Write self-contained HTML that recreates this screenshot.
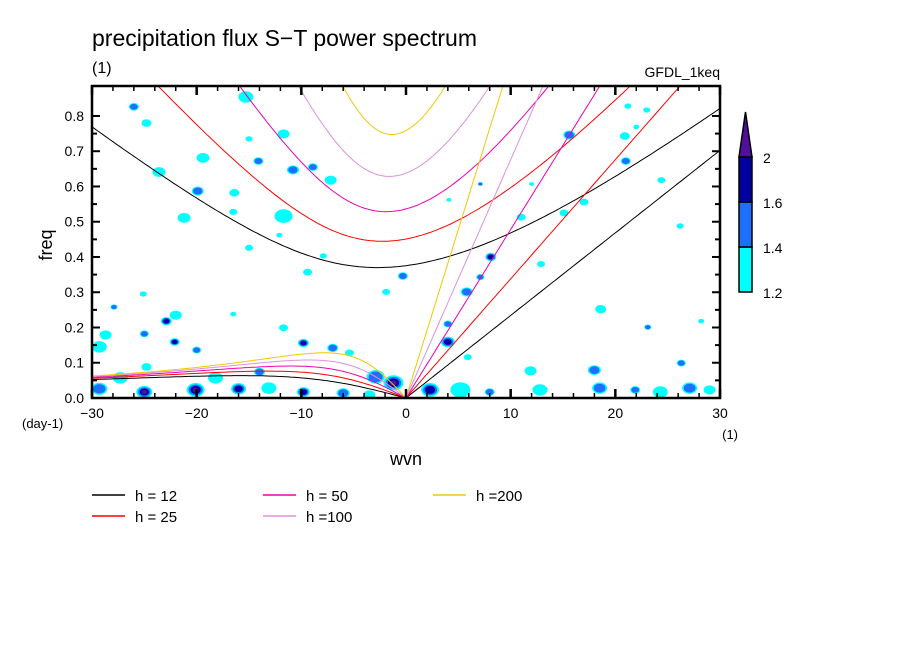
<!DOCTYPE html>
<html><head><meta charset="utf-8">
<style>
html,body{margin:0;padding:0;background:#fff;}
svg{display:block;font-family:"Liberation Sans",sans-serif;}
</style></head>
<body>
<svg id="chart" width="904" height="654" viewBox="0 0 904 654">
<defs><clipPath id="plotclip"><rect x="92" y="86" width="628" height="312"/></clipPath></defs>
<text x="92" y="46" font-size="23">precipitation flux S−T power spectrum</text>
<text x="92" y="73" font-size="16">(1)</text>
<text x="720" y="77" font-size="14" text-anchor="end">GFDL_1keq</text>
<g id="blobs" clip-path="url(#plotclip)"></g>
<g id="curves" clip-path="url(#plotclip)"></g>
<g id="axes"></g>
<text x="52" y="245" font-size="18" text-anchor="middle" transform="rotate(-90 52 245)">freq</text>
<text x="22" y="428" font-size="13">(day-1)</text>
<text x="406" y="465" font-size="18" text-anchor="middle">wvn</text>
<text x="738" y="439" font-size="13" text-anchor="end">(1)</text>
<g id="legend"></g>
<g id="colorbar"></g>
</svg>
<script>
const depths = [12, 25, 50, 100, 200];
const depthColors = ['#000000','#ff0000','#ee00b4','#dd90dd','#f0c800'];
const xTicks = [-30,-20,-10,0,10,20,30];
const yTicks = [0,0.1,0.2,0.3,0.4,0.5,0.6,0.7,0.8];
const cbLevels = [1.2,1.4,1.6,2];
const cbColors = ['#00ffff','#1e6eff','#0000a0','#50109c'];
// blobs: wavenumber, frequency, level (1-4), relative size
const blobWvn  = [-26.0,-24.8,-15.3,-19.4,-23.6,-19.9,-14.1,-10.8,-8.9,-11.7,-11.7,-21.2,-16.4,-7.2,-15.0,-16.5,-12.1,-15.0,-7.9,-9.4,-1.9,-0.3,-25.1,
 15.6,20.9,21.2,23.0,22.0,21.0,24.4,12.0,7.1,4.1,15.1,11.0,17.0,26.2,12.9,8.1,7.1,5.8,18.6,4.0,4.0,5.9,11.9,18.0,23.1,28.2,26.3,
 2.3,5.2,8.0,12.8,18.5,21.9,24.3,27.1,29.0,
 -27.9,-22.9,-22.0,-25.0,-22.1,-20.0,-28.7,-29.3,-9.8,-7.0,-11.7,-5.4,-16.5,-24.8,-14.0,-29.3,-25.0,-20.1,-16.0,-9.8,-13.1,-6.0,-3.5,-1.2,-2.9,-27.3,-18.2];
const blobFreq = [.826,.780,.854,.681,.641,.587,.672,.647,.655,.749,.516,.511,.582,.618,.735,.528,.462,.426,.403,.357,.301,.346,.295,
 .746,.743,.828,.817,.769,.672,.618,.607,.607,.562,.525,.513,.556,.488,.380,.400,.343,.301,.252,.210,.159,.116,.077,.079,.201,.218,.099,
 .023,.023,.017,.023,.028,.023,.017,.028,.023,
 .258,.218,.235,.182,.159,.136,.179,.145,.156,.142,.199,.128,.238,.088,.074,.026,.017,.023,.026,.017,.028,.014,.009,.043,.060,.057,.057];
const blobLevel = [2,1,1,1,1,2,2,2,2,1,1,1,1,1,1,1,1,1,1,1,1,2,1,
 2,1,1,1,1,2,1,1,2,1,1,1,1,1,1,3,2,2,1,2,3,1,1,2,2,1,2,
 3,1,2,1,2,2,1,2,1,
 2,3,1,2,3,2,1,1,3,2,1,1,1,1,2,2,4,4,3,3,1,2,1,4,2,1,1];
const blobSize = [1,1,1.5,1.3,1.3,1.2,1,1.2,1,1.2,1.8,1.3,1,1.2,0.7,0.8,0.6,0.8,0.7,0.9,0.8,1,0.7,
 1.2,1,0.7,0.7,0.6,1,0.8,0.5,0.5,0.5,0.9,0.9,0.9,0.7,0.8,1.1,0.8,1.2,1.1,0.9,1.4,0.8,1.2,1.3,0.7,0.6,0.9,
 1.8,2,1,1.5,1.5,1,1.5,1.5,1.2,
 0.7,1.1,1.2,0.9,1,0.9,1.2,1.5,1.1,1.1,0.9,0.9,0.6,1,1.1,1.6,1.6,1.8,1.5,1.3,1.5,1.3,1.2,2,1.8,1.5,1.5];

const NS='http://www.w3.org/2000/svg';
const X0=92,X1=720,Y0=398,Y1=86, FMAX=0.885;
const xs = w => X0 + (w+30)/60*(X1-X0);
const ys = f => Y0 - f/FMAX*(Y0-Y1);
function mk(tag, attrs, parent){const e=document.createElementNS(NS,tag);for(const k in attrs)e.setAttribute(k,attrs[k]);parent.appendChild(e);return e;}

// blobs
const gb=document.getElementById('blobs');
for(let i=0;i<blobWvn.length;i++){
  for(let j=0;j<blobLevel[i];j++){
    const sc=blobSize[i]*(1-j*0.22);
    const e=mk('ellipse',{cx:xs(blobWvn[i]),cy:ys(blobFreq[i]),rx:5*sc,ry:3.8*sc,fill:cbColors[j]},gb);
    
    
  }
}

// dispersion curves
const g=9.81,a=6.371e6,beta=2*7.292e-5/a,cpd=86400/(2*Math.PI);
function solve(c,k,w0){let w=w0;for(let i=0;i<60;i++){const f=w*w*w-(c*c*k*k+3*beta*c)*w-beta*c*c*k;const d=3*w*w-(c*c*k*k+3*beta*c);if(d===0)break;w-=f/d;}return w;}
const gc=document.getElementById('curves');
depths.forEach((h,idx)=>{
  const c=Math.sqrt(g*h), col=depthColors[idx];
  let kel=[],ig=[],er=[];
  for(let s=-30;s<=30.001;s+=0.25){
    const k=s/a;
    const A=c*c*k*k+3*beta*c;
    ig.push([s,solve(c,k,Math.sqrt(A)*1.2)*cpd]);
    if(s<=0){er.push([s,solve(c,k,-beta*k/(k*k+3*beta/c))*cpd]);}
    if(s>=0)kel.push([s,c*k*cpd]);
  }
  [['kelvin',kel],['inertio-gravity',ig],['equatorial-rossby',er]].forEach(([nm,pts])=>{
    const p=mk('polyline',{points:pts.map(q=>xs(q[0]).toFixed(1)+','+ys(q[1]).toFixed(1)).join(' '),fill:'none',stroke:col,'stroke-width':1},gc);
    
    
  });
});

// axes
const ga=document.getElementById('axes');
mk('rect',{x:X0,y:Y1,width:X1-X0,height:Y0-Y1,fill:'none',stroke:'#000','stroke-width':2.5},ga);
for(let w=-30;w<=30;w+=2){const maj=(w%10===0);const L=maj?9:5;
  mk('line',{x1:xs(w),x2:xs(w),y1:Y0,y2:Y0-L,stroke:'#000','stroke-width':maj?2.5:1.5},ga);
  mk('line',{x1:xs(w),x2:xs(w),y1:Y1,y2:Y1+L,stroke:'#000','stroke-width':maj?2.5:1.5},ga);}
for(let f=0;f<=0.85;f+=0.05){const maj=Math.abs(f*10-Math.round(f*10))<1e-6;const L=maj?8:5;
  mk('line',{x1:X0,x2:X0+L,y1:ys(f),y2:ys(f),stroke:'#000','stroke-width':2},ga);
  mk('line',{x1:X1,x2:X1-L,y1:ys(f),y2:ys(f),stroke:'#000','stroke-width':2},ga);}
xTicks.forEach(v=>{const t=mk('text',{x:xs(v),y:418,'font-size':14,'text-anchor':'middle'},ga);t.textContent=(v<0?'−':'')+Math.abs(v);
  });
yTicks.forEach(v=>{const t=mk('text',{x:84,y:ys(v)+5,'font-size':14,'text-anchor':'end'},ga);t.textContent=v.toFixed(1);
  });

// legend
const gl=document.getElementById('legend');
const legX=[92,92,263,263,433], legY=[495,516,495,516,495];
const legTxt=['h = 12','h = 25','h = 50','h =100','h =200'];
depths.forEach((h,i)=>{
  const l=mk('line',{x1:legX[i],x2:legX[i]+33,y1:legY[i],y2:legY[i],stroke:depthColors[i],'stroke-width':1.5},gl);
  
  const t=mk('text',{x:legX[i]+43,y:legY[i]+6,'font-size':15},gl);t.textContent=legTxt[i];
  
});

// colorbar
const gcb=document.getElementById('colorbar');
const cbY=[292,247,202,157];
for(let i=0;i<3;i++){const r=mk('rect',{x:739,y:cbY[i+1],width:13,height:cbY[i]-cbY[i+1],fill:cbColors[i],stroke:'#000','stroke-width':1.5},gcb);
  }
const tri=mk('polygon',{points:'739,157 752,157 745.5,112',fill:cbColors[3],stroke:'#000','stroke-width':1.5},gcb);

cbLevels.forEach((v,i)=>{const t=mk('text',{x:763,y:cbY[i]+6,'font-size':14},gcb);t.textContent=String(v);
  });
</script>
</body></html>
